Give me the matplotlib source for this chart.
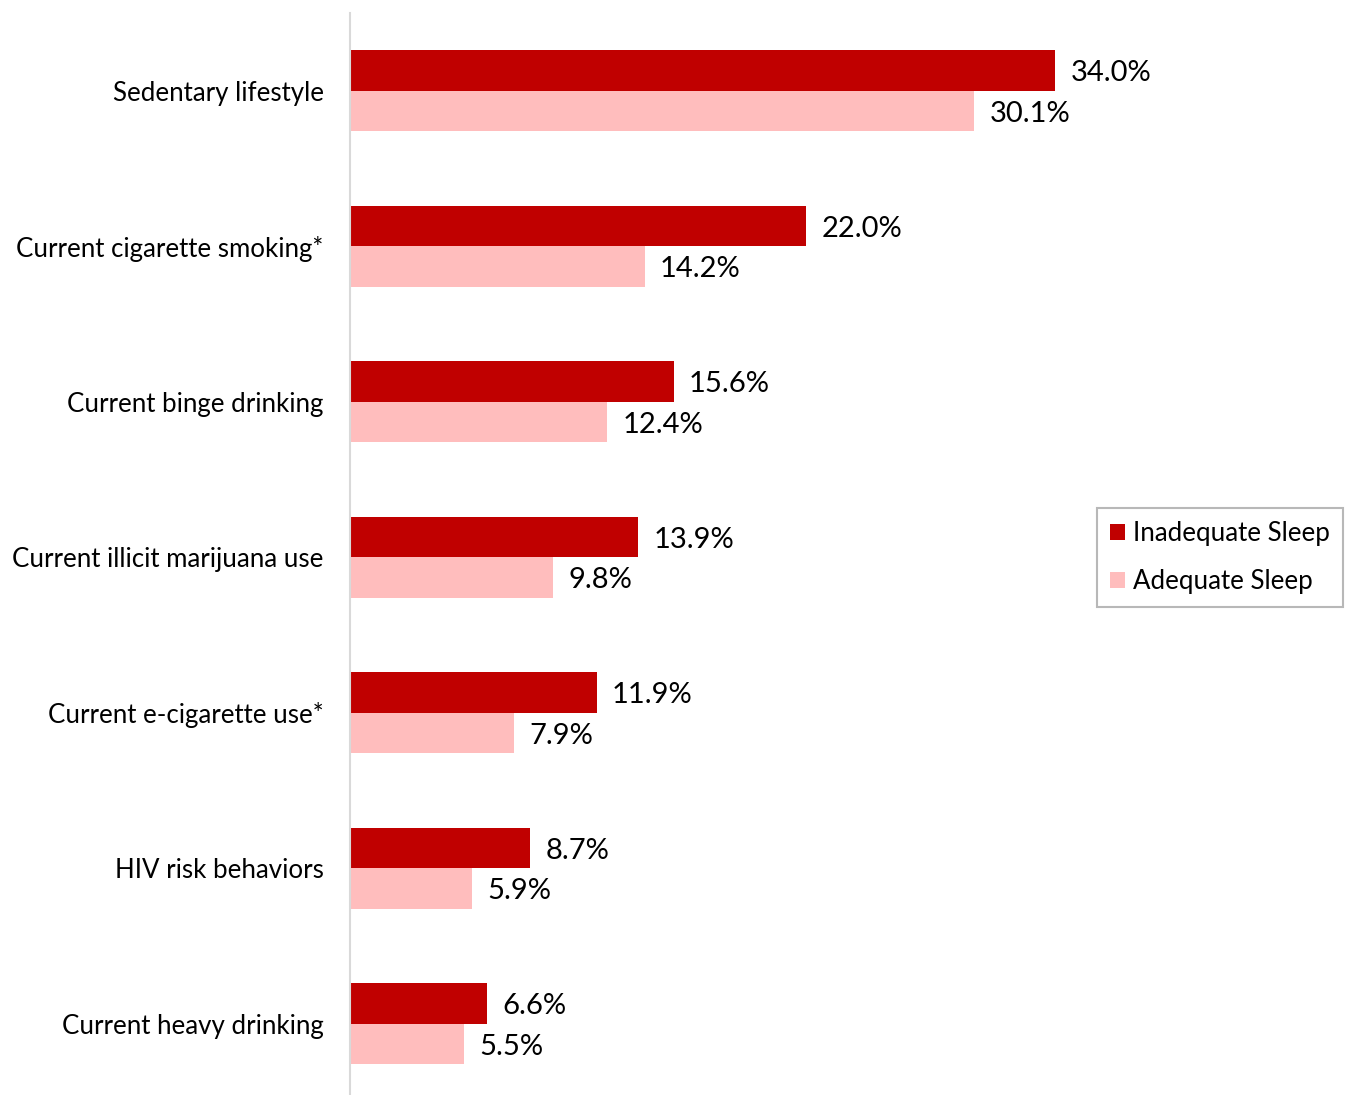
import matplotlib
matplotlib.use("Agg")
import matplotlib.pyplot as plt
import numpy as np

categories = [
    "Sedentary lifestyle",
    "Current cigarette smoking*",
    "Current binge drinking",
    "Current illicit marijuana use",
    "Current e-cigarette use*",
    "HIV risk behaviors",
    "Current heavy drinking",
]
inadequate = [34.0, 22.0, 15.6, 13.9, 11.9, 8.7, 6.6]
adequate = [30.1, 14.2, 12.4, 9.8, 7.9, 5.9, 5.5]
series_names = ["Inadequate Sleep", "Adequate Sleep"]

plt.rcParams["font.family"] = ["Lato", "DejaVu Sans"]

W, H = 1345, 1095
fig = plt.figure(figsize=(W / 100, H / 100), dpi=100)
ax = fig.add_axes([350 / W, 0.0, 1 - 350 / W, (H - 13) / H])

y = np.arange(len(categories))
bh = 0.26
dark = "#C00000"
light = "#FFBDBD"

b1 = ax.barh(y - bh / 2, inadequate, height=bh, color=dark, label=series_names[0])
b2 = ax.barh(y + bh / 2, adequate, height=bh, color=light, label=series_names[1])

for bars, vals in ((b1, inadequate), (b2, adequate)):
    for bar, v in zip(bars, vals):
        ax.annotate(f"{v:.1f}%", (bar.get_width(), bar.get_y() + bar.get_height() / 2),
                    xytext=(11, -2), textcoords="offset points",
                    va="center", ha="left", fontsize=21, color="#000000")

ax.set_xlim(0, (W - 350) / 20.74)
ax.set_ylim(6.458, -0.5)
ax.set_yticks(y)
ax.set_yticklabels(categories, fontsize=18.6)
ax.tick_params(axis="y", length=0, pad=19)
ax.set_xticks([])
for s in ("top", "right", "bottom"):
    ax.spines[s].set_visible(False)
ax.spines["left"].set_color("#D9D9D9")
ax.spines["left"].set_linewidth(1.5)

leg = fig.legend(handles=[b1, b2], labels=series_names, loc="upper left",
                 bbox_to_anchor=(1097 / W, 1 - 508 / H), fontsize=18.6,
                 frameon=True, fancybox=False, borderaxespad=0,
                 handlelength=0.6, handleheight=0.6,
                 handletextpad=0.3, labelspacing=0.9, borderpad=0.5)
leg.get_frame().set_edgecolor("#A6A6A6")
leg.get_frame().set_linewidth(1.5)

fig.savefig("out.png", dpi=100)
